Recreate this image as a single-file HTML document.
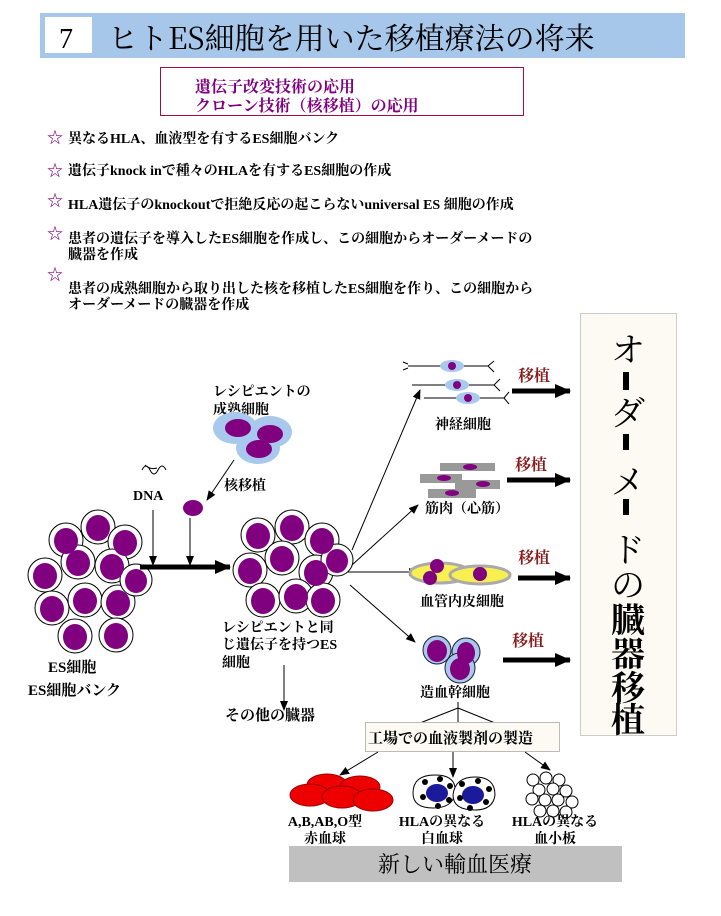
<!DOCTYPE html>
<html><head><meta charset="utf-8"><style>
body{margin:0;background:#fff;width:721px;height:916px;overflow:hidden}
svg{display:block}
text{font-family:"Liberation Serif","Noto Serif CJK SC","Noto Sans CJK JP",serif}
.b{font-weight:bold;font-size:14px}
</style></head><body>
<svg width="721" height="916" viewBox="0 0 721 916" xmlns="http://www.w3.org/2000/svg">
<defs>
<marker id="a" markerWidth="10" markerHeight="10" refX="9" refY="5" orient="auto" markerUnits="userSpaceOnUse"><path d="M0,1 L10,5 L0,9 z" fill="#000"/></marker>
<marker id="A" markerWidth="16" markerHeight="16" refX="15" refY="8" orient="auto" markerUnits="userSpaceOnUse"><path d="M0,1 L16,8 L0,15 z" fill="#000"/></marker>
</defs>
<rect x="40" y="13" width="645" height="45" fill="#a6c6ea"/>
<rect x="45" y="17" width="47" height="36" fill="#fff"/>
<text x="59" y="48" font-size="28">7</text>
<text x="108" y="49" font-size="30" style="font-family:'Noto Serif CJK SC',serif">ヒトES細胞を用いた移植療法の将来</text>
<rect x="160.5" y="67.5" width="363" height="48" fill="#fff" stroke="#a0103a"/>
<g fill="#800080" font-size="16" font-weight="bold"><text x="195" y="92">遺伝子改変技術の応用</text><text x="195" y="111">クローン技術（核移植）の応用</text></g>
<g fill="#800080" font-size="16"><text x="47" y="143">☆</text><text x="47" y="176">☆</text><text x="47" y="206">☆</text><text x="47" y="239">☆</text><text x="47" y="280">☆</text></g>
<g class="b" fill="#000">
<text x="68" y="143">異なるHLA、血液型を有するES細胞バンク</text>
<text x="68" y="175">遺伝子knock inで種々のHLAを有するES細胞の作成</text>
<text x="68" y="209">HLA遺伝子のknockoutで拒絶反応の起こらないuniversal ES 細胞の作成</text>
<text x="68" y="243">患者の遺伝子を導入したES細胞を作成し、この細胞からオーダーメードの</text>
<text x="68" y="259">臓器を作成</text>
<text x="68" y="293">患者の成熟細胞から取り出した核を移植したES細胞を作り、この細胞から</text>
<text x="68" y="309">オーダーメードの臓器を作成</text>
</g>
<rect x="580.5" y="313.5" width="96" height="422" fill="#fcfaf2" stroke="#ccc"/>
<g font-size="34" text-anchor="middle" fill="#000">
<text x="628" y="362">オ</text><rect x="623" y="372" width="6" height="18"/>
<text x="628" y="425">ダ</text><rect x="623" y="434" width="6" height="16"/>
<text x="628" y="494">メ</text><rect x="623" y="499" width="6" height="16"/>
<text x="628" y="562">ド</text><text x="628" y="597">の</text>
<text x="628" y="632" font-weight="bold">臓</text><text x="628" y="666" font-weight="bold">器</text>
<text x="628" y="700" font-weight="bold">移</text><text x="628" y="732" font-weight="bold">植</text>
</g>
<g stroke="#000" stroke-width="1">
<g fill="#fff">
<circle cx="66" cy="540" r="17"/><circle cx="98" cy="527" r="17"/><circle cx="125" cy="542" r="17"/><circle cx="45" cy="575" r="17"/><circle cx="78" cy="562" r="17"/><circle cx="112" cy="566" r="17"/><circle cx="52" cy="608" r="17"/><circle cx="85" cy="600" r="17"/><circle cx="118" cy="602" r="17"/><circle cx="136" cy="580" r="16"/><circle cx="75" cy="636" r="17"/><circle cx="116" cy="635" r="17"/></g>
<g fill="#800080" stroke="none">
<ellipse cx="66" cy="541" rx="12" ry="13"/><ellipse cx="98" cy="528" rx="12" ry="13"/><ellipse cx="125" cy="543" rx="12" ry="13"/><ellipse cx="45" cy="576" rx="12" ry="13"/><ellipse cx="78" cy="563" rx="12" ry="13"/><ellipse cx="112" cy="567" rx="12" ry="13"/><ellipse cx="52" cy="609" rx="12" ry="13"/><ellipse cx="85" cy="601" rx="12" ry="13"/><ellipse cx="118" cy="603" rx="12" ry="13"/><ellipse cx="136" cy="581" rx="11" ry="12"/><ellipse cx="75" cy="637" rx="12" ry="13"/><ellipse cx="116" cy="636" rx="12" ry="13"/></g>
</g>
<text x="48" y="672" font-size="15" font-weight="bold">ES細胞</text>
<text x="28" y="695" font-size="15" font-weight="bold">ES細胞バンク</text>
<line x1="140" y1="567" x2="230" y2="567" stroke="#000" stroke-width="5" marker-end="url(#A)"/>
<path d="M142,470 q4,-8 8,0 q4,8 8,0 q4,-8 8,0 M145,465 q5,5 12,3" stroke="#000" fill="none"/>
<text x="133" y="500" class="b">DNA</text>
<line x1="153" y1="510" x2="153" y2="565" stroke="#000" marker-end="url(#a)"/>
<line x1="190" y1="518" x2="190" y2="565" stroke="#000" marker-end="url(#a)"/>
<ellipse cx="193" cy="508" rx="10" ry="8" fill="#800080"/>
<text x="213" y="396" class="b">レシピエントの</text><text x="213" y="414" class="b">成熟細胞</text>
<g fill="#a8c8ee"><ellipse cx="235" cy="428" rx="22" ry="16"/><ellipse cx="270" cy="432" rx="22" ry="16"/><ellipse cx="258" cy="448" rx="22" ry="16"/></g>
<g fill="#800080"><ellipse cx="238" cy="428" rx="13" ry="9"/><ellipse cx="270" cy="434" rx="13" ry="9"/><ellipse cx="259" cy="449" rx="13" ry="9"/></g>
<line x1="234" y1="460" x2="207" y2="500" stroke="#000" marker-end="url(#a)"/>
<text x="224" y="490" class="b">核移植</text>
<g stroke="#000"><g fill="#fff">
<circle cx="258" cy="535" r="17"/><circle cx="292" cy="527" r="17"/><circle cx="322" cy="540" r="17"/><circle cx="250" cy="570" r="17"/><circle cx="282" cy="558" r="17"/><circle cx="316" cy="572" r="17"/><circle cx="337" cy="560" r="16"/><circle cx="263" cy="600" r="17"/><circle cx="296" cy="596" r="17"/><circle cx="323" cy="600" r="17"/></g>
<g fill="#800080" stroke="none"><ellipse cx="258" cy="536" rx="12" ry="13"/><ellipse cx="292" cy="528" rx="12" ry="13"/><ellipse cx="322" cy="541" rx="12" ry="13"/><ellipse cx="250" cy="571" rx="12" ry="13"/><ellipse cx="282" cy="559" rx="12" ry="13"/><ellipse cx="316" cy="573" rx="12" ry="13"/><ellipse cx="337" cy="561" rx="11" ry="12"/><ellipse cx="263" cy="601" rx="12" ry="13"/><ellipse cx="296" cy="597" rx="12" ry="13"/><ellipse cx="323" cy="601" rx="12" ry="13"/></g></g>
<text x="222" y="632" class="b">レシピエントと同</text><text x="222" y="649" class="b">じ遺伝子を持つES</text><text x="222" y="667" class="b">細胞</text>
<line x1="284" y1="665" x2="284" y2="710" stroke="#000" marker-end="url(#a)"/>
<text x="225" y="720" font-size="15" font-weight="bold">その他の臓器</text>
<g stroke="#000" marker-end="url(#a)"><line x1="352" y1="550" x2="420" y2="390"/><line x1="352" y1="565" x2="418" y2="505"/><line x1="348" y1="572" x2="418" y2="572"/><line x1="350" y1="585" x2="415" y2="642"/></g>
<g stroke="#000" fill="none"><path d="M408,366 h80 M412,385 h82 M424,398 h80"/><path d="M408,364 l-5,-2 M408,368 l-5,2 M488,366 l6,-5 M488,366 l6,6 M494,385 l6,-6 M494,385 l6,6 M504,398 l5,-6 M504,398 l5,6"/></g>
<g fill="#a8c8ee"><ellipse cx="452" cy="366" rx="12" ry="6"/><ellipse cx="457" cy="385" rx="12" ry="6"/><ellipse cx="468" cy="398" rx="12" ry="6"/></g>
<g fill="#800080"><circle cx="452" cy="366" r="4"/><circle cx="457" cy="385" r="4"/><circle cx="468" cy="398" r="4"/></g>
<text x="435" y="429" class="b">神経細胞</text>
<g fill="#999"><rect x="420" y="474" width="42" height="9"/><rect x="440" y="463" width="55" height="8"/><rect x="428" y="489" width="48" height="9"/><rect x="455" y="480" width="45" height="9"/></g>
<g fill="#800080"><ellipse cx="444" cy="478" rx="7" ry="3"/><ellipse cx="470" cy="467" rx="7" ry="3"/><ellipse cx="452" cy="493" rx="7" ry="3"/><ellipse cx="483" cy="484" rx="7" ry="3"/></g>
<text x="425" y="513" class="b">筋肉（心筋）</text>
<g fill="#f8f050" stroke="#aaa" stroke-width="3"><ellipse cx="440" cy="573" rx="30" ry="10"/><ellipse cx="480" cy="575" rx="30" ry="9"/></g>
<g fill="#800080"><circle cx="437" cy="566" r="7"/><circle cx="430" cy="578" r="7"/><circle cx="480" cy="574" r="7"/></g>
<text x="420" y="606" class="b">血管内皮細胞</text>
<g fill="#a8c8ee" stroke="#223"><circle cx="437" cy="650" r="14"/><circle cx="466" cy="652" r="14"/><circle cx="460" cy="668" r="15"/></g>
<g fill="#800080"><ellipse cx="437" cy="651" rx="10" ry="11"/><ellipse cx="466" cy="653" rx="9" ry="11"/><ellipse cx="460" cy="669" rx="10" ry="11"/></g>
<text x="420" y="697" class="b">造血幹細胞</text>
<g fill="#8b1a1a" font-size="16" font-weight="bold"><text x="518" y="381">移植</text><text x="515" y="470">移植</text><text x="518" y="563">移植</text><text x="512" y="646">移植</text></g>
<g stroke="#000" stroke-width="5" marker-end="url(#A)"><line x1="512" y1="391" x2="570" y2="391"/><line x1="507" y1="480" x2="570" y2="480"/><line x1="518" y1="578" x2="570" y2="578"/><line x1="503" y1="660" x2="570" y2="660"/></g>
<g stroke="#000"><line x1="458" y1="708" x2="420" y2="723"/><line x1="458" y1="708" x2="495" y2="723"/><line x1="458" y1="702" x2="458" y2="723"/></g>
<rect x="365.5" y="722.5" width="194" height="29" fill="#fcfaf2" stroke="#bbb"/>
<text x="368" y="743" font-size="15" font-weight="bold">工場での血液製剤の製造</text>
<g stroke="#000" marker-end="url(#a)"><line x1="378" y1="752" x2="340" y2="775"/><line x1="453" y1="752" x2="453" y2="777"/><line x1="525" y1="752" x2="550" y2="770"/></g>
<g fill="#e00" stroke="#900"><ellipse cx="327" cy="785" rx="20" ry="11"/><ellipse cx="360" cy="787" rx="20" ry="11"/><ellipse cx="310" cy="795" rx="20" ry="11"/><ellipse cx="342" cy="797" rx="20" ry="11"/><ellipse cx="373" cy="800" rx="20" ry="11"/></g>
<g fill="#fff" stroke="#000"><path d="M413,793 q0,-18 22,-18 q22,0 20,18 q-2,15 -22,15 q-20,0 -20,-15z"/><path d="M453,795 q2,-18 22,-18 q20,0 20,18 q-2,15 -20,15 q-22,0 -22,-15z"/></g>
<g fill="#1a1a9a"><ellipse cx="437" cy="793" rx="11" ry="9"/><ellipse cx="473" cy="795" rx="11" ry="9"/></g>
<g fill="#000"><circle cx="425" cy="782" r="3"/><circle cx="440" cy="779" r="3"/><circle cx="450" cy="786" r="3"/><circle cx="423" cy="797" r="3"/><circle cx="438" cy="806" r="3"/><circle cx="449" cy="800" r="3"/><circle cx="462" cy="784" r="3"/><circle cx="478" cy="781" r="3"/><circle cx="489" cy="789" r="3"/><circle cx="486" cy="802" r="3"/><circle cx="470" cy="808" r="3"/><circle cx="460" cy="798" r="3"/></g>
<g fill="#fff" stroke="#000"><circle cx="533" cy="780" r="6"/><circle cx="546" cy="778" r="6"/><circle cx="559" cy="780" r="6"/><circle cx="539" cy="790" r="6"/><circle cx="553" cy="789" r="6"/><circle cx="566" cy="791" r="6"/><circle cx="545" cy="800" r="6"/><circle cx="558" cy="800" r="6"/><circle cx="572" cy="802" r="6"/><circle cx="532" cy="799" r="6"/><circle cx="540" cy="811" r="6"/><circle cx="553" cy="811" r="6"/><circle cx="566" cy="812" r="6"/></g>
<g class="b" text-anchor="middle"><text x="325" y="826">A,B,AB,O型</text><text x="325" y="843">赤血球</text><text x="442" y="826">HLAの異なる</text><text x="442" y="843">白血球</text><text x="555" y="826">HLAの異なる</text><text x="555" y="843">血小板</text></g>
<rect x="289" y="846" width="333" height="36" fill="#c0c0c0"/>
<text x="455" y="872" font-size="22" text-anchor="middle">新しい輸血医療</text>
</svg>
</body></html>
